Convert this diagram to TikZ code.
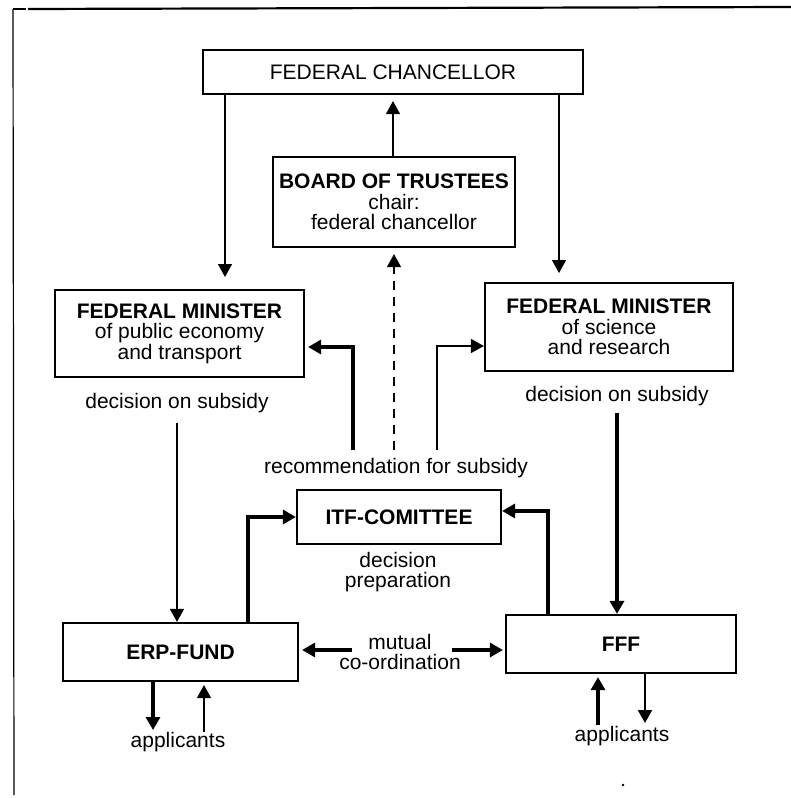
\documentclass[tikz,border=0pt]{standalone}
\usepackage{fontspec}
\setmainfont{Liberation Sans}
\usetikzlibrary{arrows.meta}
\begin{document}
\begin{tikzpicture}[x=1pt,y=-1pt,
  txt/.style={font=\fontsize{21}{20.5}\selectfont,align=center,inner sep=0pt},
  box/.style={txt,draw,line width=2.2pt},
  thinl/.style={line width=1.4pt},
  thickl/.style={line width=3.2pt},
  tip/.style={-{Triangle[width=14pt,length=13pt]}},
  frame/.style={line width=1.4pt}]
\useasboundingbox (0,0) rectangle (791,798);
% frame
\draw[frame] (13,9) -- (26,9);
\draw[frame,line width=2.2pt] (28,9) -- (791,7);
\draw[frame,line width=1.2pt] (13,9) -- (14,795);
% boxes
\node[box,minimum width=380pt,minimum height=44pt] (chan) at (393,72) {FEDERAL CHANCELLOR};
\node[box,minimum width=242pt,minimum height=90pt] (board) at (394,202) {\textbf{BOARD OF TRUSTEES}\\chair:\\federal chancellor};
\node[box,minimum width=249pt,minimum height=87pt] (fml) at (179.5,333.5) {\textbf{FEDERAL MINISTER}\\of public economy\\and transport};
\node[box,minimum width=248pt,minimum height=88pt] (fmr) at (609,327) {\textbf{FEDERAL MINISTER}\\of science\\and research};
\node[box,minimum width=204pt,minimum height=54pt] (itf) at (399,517) {\textbf{ITF-COMITTEE}};
\node[box,minimum width=235pt,minimum height=58pt] (erp) at (180.5,652) {\textbf{ERP-FUND}};
\node[box,minimum width=230pt,minimum height=58pt] (fff) at (621,644) {\textbf{FFF}};
% labels
\node[txt] (decL) at (177,403) {decision on subsidy};
\node[txt] (decR) at (617,396) {decision on subsidy};
\node[txt] (rec) at (396,468) {recommendation for subsidy};
\node[txt] (prep) at (398,572) {decision\\preparation};
\node[txt] (mut) at (400,652) {mutual\\co-ordination};
\node[txt] (appL) at (178,742) {applicants};
\node[txt] (appR) at (622,736) {applicants};
% coordinates
\coordinate (cL) at (225,277);
\coordinate (cR) at (559,273);
\coordinate (recL) at (353,450);
\coordinate (recR) at (437,450);
\coordinate (recLy) at (353,347);
\coordinate (recRy) at (437,346);
\coordinate (dsh) at (394,450);
\coordinate (dL) at (177,423);
\coordinate (dR) at (617,413);
\coordinate (eU) at (248,517);
\coordinate (fU) at (548,511);
\coordinate (mL) at (352,650);
\coordinate (mR) at (452,650);
\coordinate (eD) at (153,730);
\coordinate (eA) at (204,732);
\coordinate (fA) at (598,725);
\coordinate (fD) at (645,723);
% connectors
\draw[thinl,tip] (cL |- chan.south) -- (cL);
\draw[thinl,tip] (cR |- chan.south) -- (cR);
\draw[thinl,tip,shorten >=6pt] (board.north -| chan.south) -- (chan.south);
\draw[thinl,tip,dashed,dash pattern=on 9pt off 7pt,shorten >=6pt] (dsh) -- (dsh |- board.south);
\draw[thickl,tip,shorten >=3pt] (recL) -- (recLy) -- (recLy -| fml.east);
\draw[thinl,tip] (recR) -- (recRy) -- (recRy -| fmr.west);
\draw[thinl,tip] (dL) -- (dL |- erp.north);
\draw[thickl,tip] (dR) -- (dR |- fff.north);
\draw[thickl,tip] (eU |- erp.north) -- (eU) -- (eU -| itf.west);
\draw[thickl,tip] (fU |- fff.north) -- (fU) -- (fU -| itf.east);
\draw[thickl,tip,shorten >=3pt] (mL) -- (mL -| erp.east);
\draw[thickl,tip,shorten >=2pt] (mR) -- (mR -| fff.west);
\draw[thickl,tip] (eD |- erp.south) -- (eD);
\draw[thinl,tip,shorten >=3pt] (eA) -- (eA |- erp.south);
\draw[thickl,tip,shorten >=3pt] (fA) -- (fA |- fff.south);
\draw[line width=2pt,tip] (fD |- fff.south) -- (fD);
\fill (623,785) circle (1.4pt);
\end{tikzpicture}
\end{document}
